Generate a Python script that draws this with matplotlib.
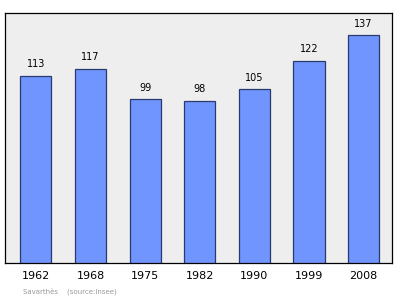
import matplotlib
matplotlib.use('Agg')
import matplotlib.pyplot as plt

years = ['1962', '1968', '1975', '1982', '1990', '1999', '2008']
population = [113, 117, 99, 98, 105, 122, 137]

fig = plt.figure(figsize=(4, 2.99), dpi=100)
ax = fig.add_axes([0.012, 0.12, 0.968, 0.835])
ax.set_facecolor('#eeeeee')

x = list(range(len(years)))
ax.bar(x, population, width=0.57, color='#7095ff', edgecolor='#2b3a6e', linewidth=0.9)
for xi, v in zip(x, population):
    ax.text(xi, v + 4, str(v), ha='center', va='bottom', fontsize=7, color='black')

ax.set_xlim(-0.57, 6.52)
ax.set_ylim(2, 150)
ax.set_yticks([])
ax.set_xticks(x)
ax.set_xticklabels(years, fontsize=8)
ax.tick_params(axis='x', length=0, pad=6)
for s in ax.spines.values():
    s.set_color('black')
    s.set_linewidth(0.9)

fig.text(0.057, 0.02, 'Savarthès    (source:Insee)', fontsize=5, color='#999999')

fig.savefig('out.png', dpi=100)
